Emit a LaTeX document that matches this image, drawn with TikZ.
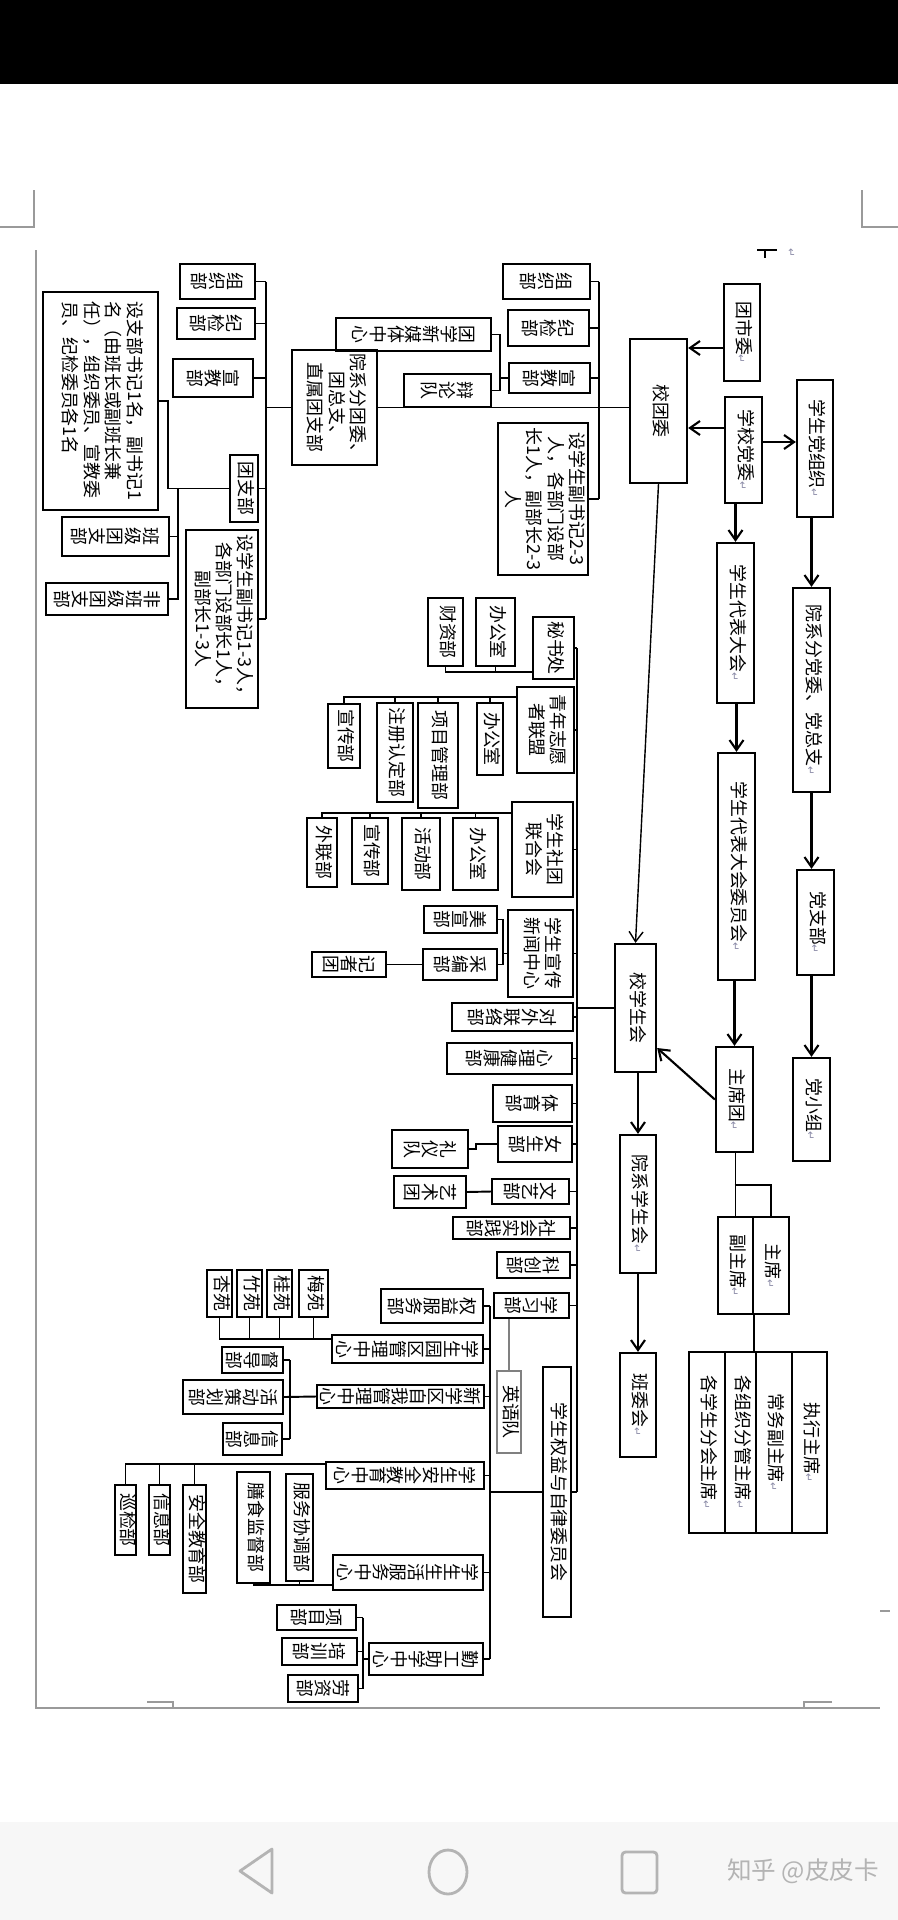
\documentclass[tikz,border=0pt]{standalone}
\usepackage{fontspec}
\usepackage{graphicx}
\usetikzlibrary{arrows.meta}

\newfontfamily\cjk{Noto Sans CJK SC}
\newfontfamily\dejavu{DejaVu Sans}
\definecolor{retmark}{HTML}{8C8CA8}
\definecolor{navbar}{HTML}{F7F7F7}
\definecolor{navicon}{HTML}{B4B4B4}
\definecolor{pageline}{HTML}{9A9A9A}

\renewcommand{\arraystretch}{0.95}
\newcommand{\parmark}{{\dejavu\color{retmark}\fontsize{6}{6}\selectfont ↵}}
\newcommand{\vtxt}[1]{\rotatebox{-90}{\begin{tabular}{@{}c@{}}#1\end{tabular}}}
\newcommand{\vtxtl}[1]{\rotatebox{-90}{\begin{tabular}{@{}l@{}}#1\end{tabular}}}
\makeatletter
\newcommand{\rltxt}[1]{\rotatebox{-90}{\vbox{\baselineskip=10.2pt\lineskiplimit=-\maxdimen\@tfor\rlc:=#1\do{\hbox to 1em{\hss\rlc\hss}}}}}
\makeatother

\begin{document}
\begin{tikzpicture}[x=0.02cm, y=-0.02cm,
  box/.style={draw, line width=1.3pt, inner sep=0pt, font=\cjk\fontsize{10.2}{12.5}\selectfont},
  sz/.style 2 args={minimum width=#1*0.02cm, minimum height=#2*0.02cm},
  link/.style={line width=1.1pt},
  arr/.style={line width=1.2pt, -{Straight Barb[length=2mm, width=2.8mm]}}]

\useasboundingbox (0,0) rectangle (898,1920);

% Screen
\fill[white] (0,0) rectangle (898,1920);
\fill[black] (0,0) rectangle (898,84);
\fill[navbar] (0,1822) rectangle (898,1920);

% Page edges and crop marks
\draw[pageline, line width=1pt] (36,250) -- (36,1708) -- (880,1708);
\draw[pageline, line width=0.6pt] (0,227) -- (34,227) -- (34,190);
\draw[pageline, line width=0.6pt] (898,227) -- (862,227) -- (862,190);
\draw[pageline, line width=0.6pt] (147,1702) -- (173,1702) -- (173,1708);
\draw[pageline, line width=0.6pt] (832,1702) -- (804,1702) -- (804,1708);
\draw[pageline, line width=0.6pt] (880,1611) -- (890,1611);
\draw[line width=1.5pt] (757,250) -- (777,250);
\draw[line width=1.1pt] (765,250) -- (765,258);
\node[inner sep=0pt] (topmark) at (791,253) {\rotatebox{-90}{\parmark}};

% Party and league
\node[box, sz={36}{97}] (tsw) at (742,332.5) {\vtxt{团市委\parmark}};
\node[box, sz={57}{144}] (xtw) at (658.5,411) {\vtxt{校团委}};
\node[box, sz={37}{106}] (xxdw) at (743.5,450) {\vtxt{学校党委\parmark}};
\node[box, sz={36}{137}] (xsdz) at (815,448.5) {\vtxt{学生党组织\parmark}};
\node[box, sz={37}{160}] (xsdb) at (735.5,623) {\vtxt{学生代表大会\parmark}};
\node[box, sz={37}{204}] (yxfd) at (811.5,690) {\vtxt{院系分党委、党总支\parmark}};
\node[box, sz={37}{227}] (dbwy) at (736.5,866.5) {\vtxt{学生代表大会委员会\parmark}};
\node[box, sz={37}{105}] (dzb) at (815.5,922.5) {\vtxt{党支部\parmark}};
\node[box, sz={41}{128}] (xxsh) at (635.5,1008) {\vtxt{校学生会}};
\node[box, sz={37}{105}] (zxt) at (734.5,1099.5) {\vtxt{主席团\parmark}};
\node[box, sz={37}{103}] (dxz) at (811.5,1109.5) {\vtxt{党小组\parmark}};
\node[box, sz={36}{138}] (yxxsh) at (638,1204) {\vtxt{院系学生会\parmark}};
\node[box, sz={35}{97}] (fzx) at (735.5,1265.5) {\vtxt{副主席\parmark}};
\node[box, sz={36}{97}] (zx) at (771,1265.5) {\vtxt{主席\parmark}};
\node[box, sz={36}{104}] (bwh) at (638,1405) {\vtxt{班委会\parmark}};
\node[box, sz={36}{181}] (gxsfh) at (707,1442.5) {\vtxt{各学生分会主席\parmark}};
\node[box, sz={31}{181}] (gzzfg) at (740.5,1442.5) {\vtxt{各组织分管主席\parmark}};
\node[box, sz={36}{181}] (cwfzx) at (774,1442.5) {\vtxt{常务副主席\parmark}};
\node[box, sz={35}{181}] (zxzx) at (809.5,1442.5) {\vtxt{执行主席\parmark}};

% League branches
\node[box, sz={85}{115}] (yxft) at (334.5,407.5) {\vtxt{院系分团委、\\团总支、\\直属团支部}};
\node[box, sz={87}{35}] (zz2) at (546.5,281.5) {\rltxt{组织部}};
\node[box, sz={81}{36}] (jj2) at (548.5,328) {\rltxt{纪检部}};
\node[box, sz={81}{30}] (xj2) at (549.5,378) {\rltxt{宣教部}};
\node[box, sz={90}{152}] (fs2) at (543,499) {\vtxt{设学生副书记2-3\\人，各部门设部\\长1人，副部长2-3\\人}};
\node[box, sz={87}{33}] (bl) at (447.5,390.5) {\rltxt{辩论队}};
\node[box, sz={155}{33}] (xmt) at (413.5,334.5) {\rltxt{团学新媒体中心}};
\node[box, sz={75}{35}] (zz1) at (217.5,281.5) {\rltxt{组织部}};
\node[box, sz={78}{31}] (jj1) at (216,323.5) {\rltxt{纪检部}};
\node[box, sz={80}{38}] (xj1) at (213,378) {\rltxt{宣教部}};
\node[box, sz={28}{67}] (tzb) at (244,488.5) {\vtxt{团支部}};
\node[box, sz={72}{178}] (fs1) at (222,619) {\vtxt{设学生副书记1-3人，\\各部门设部长1人，\\副部长1-3人}};
\node[box, sz={115}{218}] (zbsj) at (100.5,401) {\vtxtl{设支部书记1名，副书记1\\名（由班长或副班长兼\\任），组织委员、宣教委\\员、纪检委员各1名}};
\node[box, sz={107}{39}] (bjtzb) at (115.5,536.5) {\rltxt{班级团支部}};
\node[box, sz={122}{32}] (fbjtzb) at (107,599) {\rltxt{非班级团支部}};

% Student union departments
\node[box, sz={41}{62}] (msc) at (553.5,648) {\vtxt{秘书处}};
\node[box, sz={39}{68}] (bgs1) at (495.5,632) {\vtxt{办公室}};
\node[box, sz={35}{68}] (czb) at (445.5,632) {\vtxt{财资部}};
\node[box, sz={57}{86}] (qzl) at (545.5,730) {\vtxt{青年志愿\\者联盟}};
\node[box, sz={26}{72}] (bgs2) at (490,739) {\vtxt{办公室}};
\node[box, sz={40}{105}] (xmgl) at (438,755.5) {\vtxt{项目管理部}};
\node[box, sz={36}{99}] (zcrd) at (395,752.5) {\vtxt{注册认定部}};
\node[box, sz={32}{64}] (xcb1) at (344,736) {\vtxt{宣传部}};
\node[box, sz={61}{95}] (stlh) at (542.5,849.5) {\vtxt{学生社团\\联合会}};
\node[box, sz={45}{72}] (bgs3) at (475.5,854) {\vtxt{办公室}};
\node[box, sz={38}{72}] (hdb) at (421,854) {\vtxt{活动部}};
\node[box, sz={36}{66}] (xcb2) at (370,851) {\vtxt{宣传部}};
\node[box, sz={30}{69}] (wlb) at (322,852.5) {\vtxt{外联部}};
\node[box, sz={65}{87}] (xxzx) at (540.5,953.5) {\vtxt{学生宣传\\新闻中心}};
\node[box, sz={73}{27}] (mxb) at (460.5,919.5) {\rltxt{美宣部}};
\node[box, sz={74}{31}] (cbb) at (460,964.5) {\rltxt{采编部}};
\node[box, sz={74}{25}] (jzt) at (349,964.5) {\rltxt{记者团}};
\node[box, sz={121}{28}] (dwll) at (512.5,1017) {\rltxt{对外联络部}};
\node[box, sz={125}{31}] (xljk) at (509.5,1058.5) {\rltxt{心理健康部}};
\node[box, sz={79}{37}] (tyb) at (532.5,1103.5) {\rltxt{体育部}};
\node[box, sz={74}{36}] (nsb) at (535,1144) {\rltxt{女生部}};
\node[box, sz={76}{38}] (lyd) at (430,1149) {\rltxt{礼仪队}};
\node[box, sz={77}{25}] (wyb) at (530.5,1191.5) {\rltxt{文艺部}};
\node[box, sz={72}{32}] (yst) at (430,1192) {\rltxt{艺术团}};
\node[box, sz={117}{22}] (shsj) at (511.5,1228) {\rltxt{社会实践部}};
\node[box, sz={73}{26}] (kcb) at (533.5,1265) {\rltxt{科创部}};
\node[box, sz={75}{25}] (xxb) at (531.5,1305.5) {\rltxt{学习部}};
\node[box, draw=gray, line width=0.6pt, sz={24}{82}] (yyd) at (509,1412) {\vtxt{英语队}};
\node[box, sz={28}{250}] (qyzl) at (557,1492) {\vtxt{学生权益与自律委员会}};

% Rights and self-discipline centres
\node[box, sz={102}{34}] (qyfw) at (432,1306) {\rltxt{权益服务部}};
\node[box, sz={151}{28}] (yqgl) at (407.5,1349) {\rltxt{学生园区管理中心}};
\node[box, sz={167}{23}] (zwgl) at (400.5,1396.5) {\rltxt{新学区自我管理中心}};
\node[box, sz={158}{27}] (aqjy) at (405,1475.5) {\rltxt{学生安全教育中心}};
\node[box, sz={150}{35}] (shfw) at (408,1572.5) {\rltxt{学生生活服务中心}};
\node[box, sz={114}{32}] (qgzx) at (426,1659) {\rltxt{勤工助学中心}};
\node[box, sz={29}{47}] (my) at (313.5,1293.5) {\vtxt{梅苑}};
\node[box, sz={25}{47}] (gy) at (279.5,1293.5) {\vtxt{桂苑}};
\node[box, sz={25}{47}] (zy) at (249.5,1293.5) {\vtxt{竹苑}};
\node[box, sz={25}{47}] (xy) at (219.5,1293.5) {\vtxt{杏苑}};
\node[box, sz={61}{26}] (ddb) at (252.5,1360) {\rltxt{督导部}};
\node[box, sz={100}{34}] (hdch) at (233,1397) {\rltxt{活动策划部}};
\node[box, sz={59}{32}] (xxb2) at (252.5,1439) {\rltxt{信息部}};
\node[box, sz={23}{108}] (aqjyb) at (194.5,1539) {\vtxt{安全教育部}};
\node[box, sz={21}{70}] (xxb3) at (159.5,1520) {\vtxt{信息部}};
\node[box, sz={21}{70}] (xjb) at (125.5,1520) {\vtxt{巡检部}};
\node[box, sz={27}{107}] (fwxt) at (299.5,1527.5) {\vtxt{服务协调部}};
\node[box, sz={33}{111}] (ssjd) at (253.5,1527.5) {\vtxt{膳食监督部}};
\node[box, sz={79}{25}] (xmb) at (316.5,1617.5) {\rltxt{项目部}};
\node[box, sz={75}{27}] (pxb) at (319.5,1651.5) {\rltxt{培训部}};
\node[box, sz={70}{27}] (lzb) at (323,1688.5) {\rltxt{劳资部}};

% Trunk positions
\coordinate (tkR) at (599,0);
\coordinate (tkB) at (500,0);
\coordinate (tkL) at (266,0);
\coordinate (tkS) at (168,0);
\coordinate (tkT) at (178,0);
\coordinate (tkM) at (577,0);
\coordinate (tkX) at (503,0);
\coordinate (tkY) at (476,0);
\coordinate (tkQ) at (490,0);
\coordinate (tkZ) at (290,0);
\coordinate (tkG) at (363,0);

% Arrows
\draw[arr] (tsw.west |- 0,348) -- (xtw.east |- 0,348);
\draw[arr] (xxdw.west |- 0,428) -- (xtw.east |- 0,428);
\draw[arr] (xxdw.east |- 0,442) -- (xsdz.west |- 0,442);
\draw[arr] (xxdw.south -| xsdb.north) -- (xsdb.north);
\draw[arr] (xsdz.south -| yxfd.north) -- (yxfd.north);
\draw[arr] (xsdb.south -| dbwy.north) -- (dbwy.north);
\draw[arr] (yxfd.south) -- (yxfd.south |- dzb.north);
\draw[arr] (dbwy.south -| zxt.north) -- (zxt.north);
\draw[arr] (dzb.south -| dxz.north) -- (dxz.north);
\draw[arr] (zxt.west) -- (xxsh.east |- 0,1048);
\draw[arr, line width=0.8pt] (xtw.south) -- (xxsh.north);
\draw[arr] (xxsh.south -| yxxsh.north) -- (yxxsh.north);
\draw[arr] (yxxsh.south) -- (bwh.north);

% Presidium
\draw[link] (zxt.south -| fzx.north) -- (fzx.north);
\draw[link] (zxt.south |- 0,1185) -| (zx.north);
\draw[link] (fzx.south east) -- (fzx.south east |- gzzfg.north);

% League tree
\draw[link] (yxft.east) -- (yxft.east -| xtw.west);
\draw[link] (zz2.east -| tkR) -- (fs2.east -| tkR);
\foreach \n in {zz2,jj2,xj2,fs2} \draw[link] (\n.east) -- (\n.east -| tkR);
\draw[link] (xmt.east) -| (bl.east -| tkB) -- (bl.east);
\draw[link] (xj2.west) -- (xj2.west -| tkB);
\draw[link] (zz1.east -| tkL) -- (fs1.east -| tkL);
\foreach \n in {zz1,jj1,xj1,tzb,fs1} \draw[link] (\n.east) -- (\n.east -| tkL);
\draw[link] (yxft.west) -- (yxft.west -| tkL);
\draw[link] (zbsj.east) -| (tzb.west -| tkS) -- (tzb.west);
\draw[link] (tzb.west -| tkT) -- (fbjtzb.east -| tkT) -- (fbjtzb.east);
\draw[link] (bjtzb.east) -- (bjtzb.east -| tkT);

% Student union tree
\draw[link] (msc.east -| tkM) -- (qyzl.east -| tkM);
\draw[link] (xxsh.west) -- (xxsh.west -| tkM);
\foreach \n in {msc,qzl,stlh,xxzx,dwll,xljk,tyb,nsb,wyb,shsj,kcb,xxb,qyzl}
  \draw[link] (\n.east) -- (\n.east -| tkM);
\draw[link] (msc.west |- 0,672) -| (czb.south);
\draw[link] (bgs1.south) -- (bgs1.south |- 0,672);
\draw[link] (qzl.west |- 0,697) -| (xcb1.north);
\foreach \n in {bgs2,xmgl,zcrd} \draw[link] (\n.north) -- (\n.north |- 0,697);
\draw[link] (stlh.west |- 0,813) -| (wlb.north);
\foreach \n in {bgs3,hdb,xcb2} \draw[link] (\n.north) -- (\n.north |- 0,813);
\draw[link] (mxb.east) -- (mxb.east -| tkX) -- (cbb.east -| tkX) -- (cbb.east);
\draw[link] (xxzx.west) -- (xxzx.west -| tkX);
\draw[link] (cbb.west) -- (jzt.east);
\draw[link] (nsb.west) -- (nsb.west -| tkY) -- (lyd.east -| tkY) -- (lyd.east);
\draw[link] (wyb.west) -- (yst.east);
\draw[gray, line width=0.6pt] (yyd.north |- xxb.south) -- (yyd.north);

% Rights tree
\draw[link] (qyzl.west) -- (qyzl.west -| tkQ);
\draw[link] (qyfw.east -| tkQ) -- (qgzx.east -| tkQ);
\foreach \n in {qyfw,yqgl,zwgl,aqjy,shfw,qgzx} \draw[link] (\n.east) -- (\n.east -| tkQ);
\draw[link] (yqgl.west |- 0,1339) -| (xy.south);
\foreach \n in {my,gy,zy} \draw[link] (\n.south) -- (\n.south |- 0,1339);
\draw[link] (zwgl.west) -- (hdch.east);
\draw[link] (ddb.east -| tkZ) -- (xxb2.east -| tkZ);
\foreach \n in {ddb,xxb2} \draw[link] (\n.east) -- (\n.east -| tkZ);
\draw[link] (aqjy.west |- 0,1464) -| (xjb.north);
\foreach \n in {aqjyb,xxb3} \draw[link] (\n.north) -- (\n.north |- 0,1464);
\draw[link] (shfw.west |- 0,1585) -| (ssjd.south);
\draw[link] (fwxt.south) -- (fwxt.south |- 0,1585);
\draw[link] (qgzx.west) -- (qgzx.west -| tkG);
\draw[link] (xmb.east -| tkG) -- (lzb.east -| tkG);
\foreach \n in {xmb,pxb,lzb} \draw[link] (\n.east) -- (\n.east -| tkG);

% Navigation bar
\draw[navicon, line width=1.6pt, line join=round] (272,1849) -- (240,1871) -- (272,1893) -- cycle;
\draw[navicon, line width=1.6pt] (448,1872) ellipse [x radius=0.38cm, y radius=0.44cm];
\draw[navicon, line width=1.6pt, rounded corners=2pt] (622,1852) rectangle (657,1893);
\node[text=navicon, font=\cjk\fontsize{14}{14}\selectfont] (zhihu) at (803,1871) {知乎 @皮皮卡};

\end{tikzpicture}
\end{document}
